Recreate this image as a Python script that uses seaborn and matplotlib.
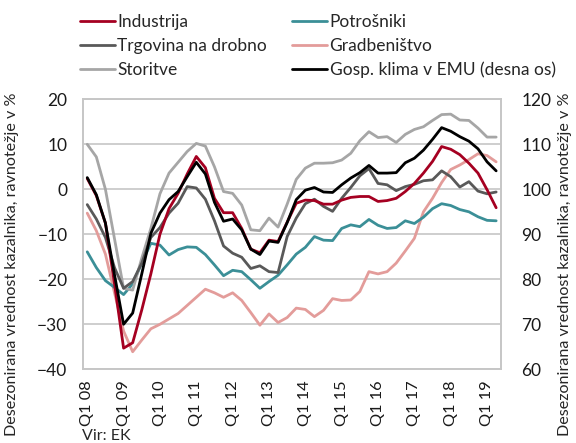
import matplotlib
matplotlib.use("Agg")
import matplotlib.pyplot as plt
from matplotlib.lines import Line2D
import seaborn as sns
import pandas as pd
import numpy as np

# četrtletja Q1 08 - Q2 19
leta = ["08", "09", "10", "11", "12", "13", "14", "15", "16", "17", "18", "19"]
cetrtletja = [f"Q{q} {l}" for l in leta for q in (1, 2, 3, 4)][:46]

industrija = [2.4, -1.4, -7.5, -21.0, -35.3, -34.1, -26.8, -18.8, -10.0, -4.3, -0.9, 3.4, 7.3, 4.8,
              -2.0, -5.2, -5.2, -8.7, -13.3, -14.1, -11.3, -11.6, -7.3, -3.1, -2.4, -2.5, -3.3, -3.3,
              -2.4, -1.8, -1.6, -1.6, -2.7, -2.5, -2.0, -0.5, 1.3, 3.6, 6.2, 9.5, 8.9, 7.7, 5.8, 3.6,
              -0.1, -4.1]
potrosniki = [-13.9, -17.4, -20.3, -21.8, -23.4, -21.0, -16.4, -12.0, -12.4, -14.6, -13.4, -12.8,
              -12.9, -14.5, -16.8, -19.2, -18.0, -18.3, -20.1, -22.0, -20.5, -19.1, -16.8, -14.4,
              -12.9, -10.5, -11.3, -11.4, -8.7, -7.9, -8.3, -6.7, -8.0, -8.7, -8.5, -7.0, -7.6, -6.2,
              -4.3, -3.2, -3.6, -4.5, -5.0, -6.1, -6.9, -7.0]
trgovina = [-3.4, -6.6, -10.7, -17.4, -22.0, -20.5, -16.4, -10.7, -8.5, -5.3, -3.1, 0.6, 0.3, -2.2,
            -7.0, -12.6, -14.2, -15.1, -17.6, -17.0, -18.3, -18.5, -10.5, -6.4, -3.2, -2.2, -3.8,
            -4.9, -2.0, 0.4, 3.0, 4.6, 1.3, 1.0, -0.3, 0.6, 1.1, 1.9, 2.1, 4.1, 2.8, 0.5, 1.7, -0.4,
            -1.0, -0.6]
gradbenistvo = [-5.3, -9.2, -14.4, -23.0, -31.5, -36.1, -33.5, -31.0, -30.0, -28.8, -27.6, -25.8,
                -24.0, -22.2, -23.0, -24.0, -23.0, -24.7, -27.4, -30.2, -27.7, -29.6, -28.5, -26.4,
                -26.7, -28.3, -26.9, -24.3, -24.7, -24.6, -22.7, -18.3, -18.8, -18.3, -16.4, -13.7,
                -10.9, -5.0, -2.0, 1.5, 4.4, 5.4, 6.6, 7.9, 7.5, 6.1]
storitve = [10.0, 7.2, 0.0, -11.0, -22.0, -22.4, -15.3, -8.7, -1.0, 3.6, 6.0, 8.4, 10.2, 9.6, 5.0,
            -0.5, -0.9, -3.5, -9.0, -9.2, -6.4, -8.4, -3.3, 2.2, 4.7, 5.8, 5.8, 5.9, 6.5, 8.0, 10.8,
            12.8, 11.5, 11.7, 10.4, 12.2, 13.3, 13.9, 15.3, 16.6, 16.7, 15.4, 15.3, 13.6, 11.6, 11.6]
# desna os
klima_emu = [102.6, 98.8, 92.5, 81.0, 70.0, 72.5, 81.2, 90.2, 94.7, 97.7, 99.5, 102.8, 106.0,
             103.4, 97.1, 92.9, 93.4, 91.0, 86.7, 85.5, 88.5, 88.2, 92.6, 97.7, 99.8, 100.4, 99.4,
             99.3, 101.0, 102.5, 103.7, 105.3, 103.6, 103.6, 103.7, 105.9, 106.9, 108.7, 111.1,
             113.7, 112.9, 111.7, 110.7, 109.0, 106.1, 104.1]

serije = ["Industrija", "Trgovina na drobno", "Storitve", "Potrošniki", "Gradbeništvo"]
barve = {"Industrija": "#a50021", "Potrošniki": "#3b8f97", "Trgovina na drobno": "#595959",
         "Gradbeništvo": "#e39c9a", "Storitve": "#a6a6a6"}

df = pd.DataFrame({"x": np.arange(len(cetrtletja)), "Industrija": industrija,
                   "Potrošniki": potrosniki, "Trgovina na drobno": trgovina,
                   "Gradbeništvo": gradbenistvo, "Storitve": storitve})
dolg = df.melt(id_vars="x", var_name="serija", value_name="vrednost")
df_klima = pd.DataFrame({"x": np.arange(len(cetrtletja)), "klima": klima_emu})

sns.set_style("white")
plt.rcParams["font.family"] = ["Lato", "DejaVu Sans"]
plt.rcParams["font.size"] = 12.5

fig = plt.figure(figsize=(5.76, 4.43), dpi=100)
ax = fig.add_axes([82.7 / 576, 1 - 369.3 / 443, 418 / 576, 270 / 443])
ax2 = ax.twinx()

siva = "#c6c6c6"
ax.set_axisbelow(True)
ax.yaxis.grid(True, color=siva, lw=1.2)
sns.lineplot(data=dolg, x="x", y="vrednost", hue="serija",
             hue_order=["Gradbeništvo", "Potrošniki", "Storitve", "Trgovina na drobno", "Industrija"],
             palette=barve, lw=2.0, ax=ax, legend=False)
sns.lineplot(data=df_klima, x="x", y="klima", color="black", lw=2.0, ax=ax2, legend=False)

ax.set_xlim(-0.5, len(cetrtletja) - 0.5)
ax.set_ylim(-40, 20)
ax2.set_ylim(60, 120)
ax.set_yticks(range(-40, 21, 10))
ax2.set_yticks(range(60, 121, 10))
ax.set_xticks(range(0, len(cetrtletja), 4))
ax.set_xticklabels(cetrtletja[::4], rotation=90)
ax.set_xlabel("")
ax.set_ylabel("")
ax2.set_ylabel("")
ax.tick_params(axis="both", length=0, labelsize=12.5, colors="#1a1a1a")
ax.tick_params(axis="y", pad=11)
ax.tick_params(axis="x", pad=8, labelsize=11.8)
ax2.tick_params(axis="y", length=0, labelsize=12.5, pad=15, colors="#1a1a1a")
for a in (ax, ax2):
    for s in a.spines.values():
        s.set_color(siva)
        s.set_linewidth(1.2)

ylab = "Desezonirana vrednost kazalnika, ravnotežje v %"
fig.text(12 / 576, 1 - 264 / 443, ylab, rotation=90, ha="center", va="center", fontsize=11.6)
fig.text(565 / 576, 1 - 264 / 443, ylab, rotation=90, ha="center", va="center", fontsize=11.6)
fig.text(82 / 576, 1 - 429 / 443, "Vir: EK", ha="left", va="top", fontsize=11.5)

handles = [Line2D([], [], color=barve[s], lw=2.0) for s in serije]
handles.append(Line2D([], [], color="black", lw=2.0))
labels = serije + ["Gosp. klima v EMU (desna os)"]
fig.legend(handles, labels, ncol=2, loc="upper left", bbox_to_anchor=(80 / 576, 1 - 14 / 443),
           frameon=False, borderpad=0, borderaxespad=0, handlelength=2.0, handletextpad=0.15,
           labelspacing=0.45, columnspacing=1.45, fontsize=12.5)

fig.savefig("out.png", dpi=100)
